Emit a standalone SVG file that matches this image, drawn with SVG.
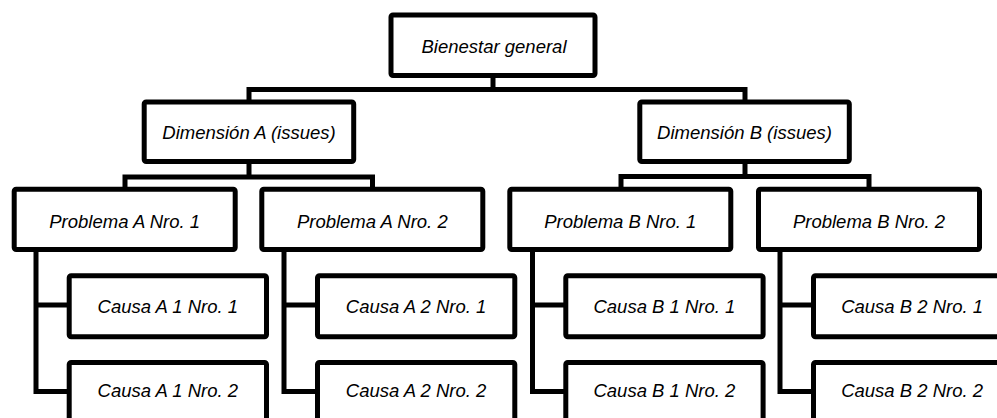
<svg xmlns="http://www.w3.org/2000/svg" width="997" height="418" viewBox="0 0 997 418">
  <style>
    .box { fill: #ffffff; stroke: #000000; stroke-width: 5; }
    .lbl { font-family: "Liberation Sans", Arial, sans-serif; font-style: italic; font-size: 18.5px; fill: #000000; text-anchor: middle; }
    .wire { fill: none; stroke: #000000; stroke-width: 5; stroke-linejoin: miter; }
  </style>
  <rect width="997" height="418" fill="#ffffff"/>

  <!-- connectors -->
  <g id="connectors" class="wire">
    <!-- root to dimensions -->
    <path d="M493,78 V89.5"/>
    <path d="M249,101 V89.5 H745 V102"/>
    <!-- dimension A to its problems -->
    <path d="M249,163 V177"/>
    <path d="M125,188 V177 H372.5 V188"/>
    <!-- dimension B to its problems -->
    <path d="M745,162 V176.5"/>
    <path d="M621,188 V176.5 H869 V188"/>
    <!-- problems to causes -->
    <path d="M36,251 V391.5 H70 M36,305 H70"/>
    <path d="M284,251 V391.5 H318 M284,305 H318"/>
    <path d="M532.5,251 V391.5 H566 M532.5,305 H566"/>
    <path d="M780,251 V391.5 H814 M780,305 H814"/>
  </g>

  <g id="root">
    <rect class="box" x="391" y="15" width="204" height="60.5" rx="2"/>
    <text class="lbl" x="494" y="53">Bienestar general</text>
  </g>

  <g id="dim-a">
    <rect class="box" x="144.2" y="102" width="209.5" height="59.5" rx="2"/>
    <text class="lbl" x="249" y="139">Dimensión A (issues)</text>
  </g>
  <g id="dim-b">
    <rect class="box" x="639.8" y="102" width="209.5" height="59.5" rx="2"/>
    <text class="lbl" x="744.5" y="139">Dimensión B (issues)</text>
  </g>

  <g id="prob-a1">
    <rect class="box" x="14.2" y="189.2" width="221" height="60.3" rx="2"/>
    <text class="lbl" x="124.7" y="228">Problema A Nro. 1</text>
  </g>
  <g id="prob-a2">
    <rect class="box" x="261.8" y="189.2" width="221" height="60.3" rx="2"/>
    <text class="lbl" x="372.3" y="228">Problema A Nro. 2</text>
  </g>
  <g id="prob-b1">
    <rect class="box" x="509.8" y="189.2" width="221" height="60.3" rx="2"/>
    <text class="lbl" x="620.3" y="228">Problema B Nro. 1</text>
  </g>
  <g id="prob-b2">
    <rect class="box" x="758.5" y="189.2" width="221" height="60.3" rx="2"/>
    <text class="lbl" x="869" y="228">Problema B Nro. 2</text>
  </g>

  <g id="causa-a1-1">
    <rect class="box" x="69.2" y="275.8" width="197.3" height="61" rx="2"/>
    <text class="lbl" x="167.8" y="313">Causa A 1 Nro. 1</text>
  </g>
  <g id="causa-a1-2">
    <rect class="box" x="69.2" y="362.5" width="197.3" height="62" rx="2"/>
    <text class="lbl" x="167.8" y="397">Causa A 1 Nro. 2</text>
  </g>
  <g id="causa-a2-1">
    <rect class="box" x="317.5" y="275.8" width="197.3" height="61" rx="2"/>
    <text class="lbl" x="416.1" y="313">Causa A 2 Nro. 1</text>
  </g>
  <g id="causa-a2-2">
    <rect class="box" x="317.5" y="362.5" width="197.3" height="62" rx="2"/>
    <text class="lbl" x="416.1" y="397">Causa A 2 Nro. 2</text>
  </g>
  <g id="causa-b1-1">
    <rect class="box" x="565.8" y="275.8" width="197.3" height="61" rx="2"/>
    <text class="lbl" x="664.4" y="313">Causa B 1 Nro. 1</text>
  </g>
  <g id="causa-b1-2">
    <rect class="box" x="565.8" y="362.5" width="197.3" height="62" rx="2"/>
    <text class="lbl" x="664.4" y="397">Causa B 1 Nro. 2</text>
  </g>
  <g id="causa-b2-1">
    <rect class="box" x="813.5" y="275.8" width="197.3" height="61" rx="2"/>
    <text class="lbl" x="912.1" y="313">Causa B 2 Nro. 1</text>
  </g>
  <g id="causa-b2-2">
    <rect class="box" x="813.5" y="362.5" width="197.3" height="62" rx="2"/>
    <text class="lbl" x="912.1" y="397">Causa B 2 Nro. 2</text>
  </g>
</svg>
